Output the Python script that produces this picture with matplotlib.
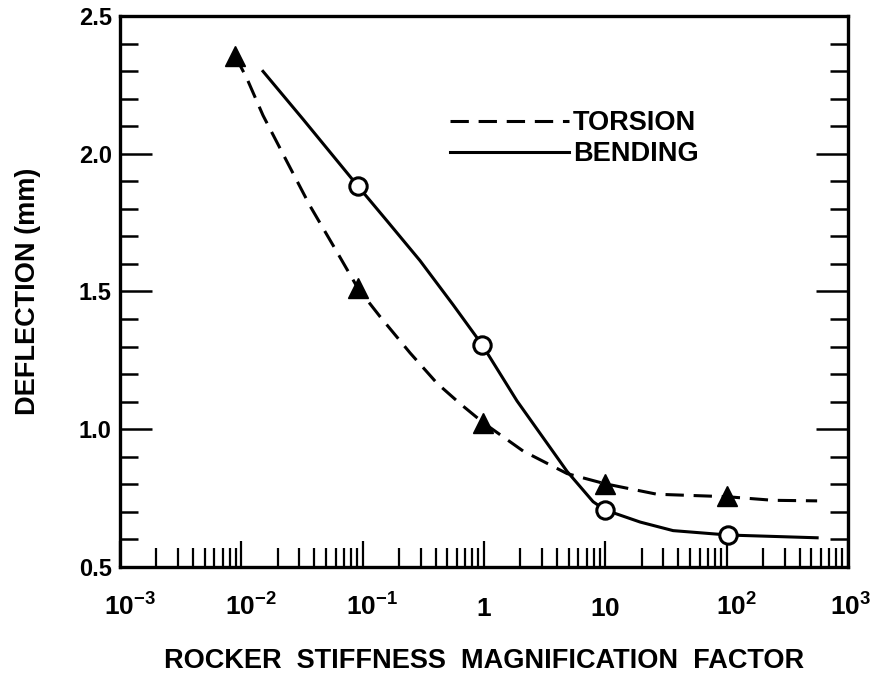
import matplotlib
matplotlib.use("Agg")
import matplotlib.pyplot as plt
from matplotlib.ticker import FixedLocator, NullFormatter
from matplotlib.transforms import ScaledTranslation

# ---- data ----
torsion_pts_x = [0.0089, 0.092, 0.98, 9.96, 101]
torsion_pts_y = [2.355, 1.511, 1.024, 0.802, 0.759]
bending_pts_x = [0.092, 0.964, 9.96, 103]
bending_pts_y = [1.882, 1.307, 0.707, 0.616]

torsion_curve_x = [0.0089, 0.0111, 0.0151, 0.0238, 0.0368, 0.0615, 0.0916, 0.139,
                   0.246, 0.410, 0.635, 0.984, 2.10, 4.84, 9.96, 26.7, 101, 242, 557]
torsion_curve_y = [2.355, 2.274, 2.139, 1.971, 1.811, 1.643, 1.511, 1.409,
                   1.277, 1.167, 1.093, 1.024, 0.921, 0.839, 0.802, 0.764, 0.755, 0.742, 0.740]
bending_curve_x = [0.0151, 0.0323, 0.0916, 0.159, 0.297, 0.556, 0.964, 1.87,
                   4.84, 7.93, 9.96, 19.4, 36.2, 103, 557]
bending_curve_y = [2.299, 2.125, 1.882, 1.756, 1.612, 1.452, 1.307, 1.103,
                   0.847, 0.737, 0.707, 0.663, 0.632, 0.616, 0.606]

x_major = [1e-3, 1e-2, 1e-1, 1, 10, 1e2, 1e3]
x_labels = [r"$10^{-3}$", r"$10^{-2}$", r"$10^{-1}$", "$1$", "$10$", r"$10^{2}$", r"$10^{3}$"]
y_major = [0.5, 1.0, 1.5, 2.0, 2.5]
y_labels = ["0.5", "1.0", "1.5", "2.0", "2.5"]

FONT = "Liberation Sans"
plt.rcParams["font.family"] = [FONT, "DejaVu Sans"]
plt.rcParams["font.weight"] = "bold"
plt.rcParams["axes.labelweight"] = "bold"
plt.rcParams["mathtext.fontset"] = "custom"
plt.rcParams["mathtext.rm"] = FONT + ":bold"
plt.rcParams["mathtext.it"] = FONT + ":bold"
plt.rcParams["mathtext.bf"] = FONT + ":bold"
plt.rcParams["mathtext.default"] = "rm"

fig = plt.figure(figsize=(8.77, 6.80), dpi=100)
ax = fig.add_axes([0.1368, 0.1662, 0.8301, 0.8103])

LW = 2.2
dash = (6.0, 3.2)
ax.plot(torsion_curve_x, torsion_curve_y, color="black", lw=LW, dashes=dash,
        dash_capstyle="butt", dash_joinstyle="round", label="TORSION", zorder=2)
ax.plot(bending_curve_x, bending_curve_y, color="black", lw=LW,
        solid_joinstyle="round", label="BENDING", zorder=2)
ax.plot(torsion_pts_x, torsion_pts_y, linestyle="none", marker="^", ms=14,
        mfc="black", mec="black", zorder=3)
ax.plot(bending_pts_x, bending_pts_y, linestyle="none", marker="o", ms=12.5,
        mfc="white", mec="black", mew=2.2, zorder=3)

ax.set_xscale("log")
ax.set_xlim(1e-3, 1e3)
ax.set_ylim(0.5, 2.5)

ax.xaxis.set_major_locator(FixedLocator(x_major))
ax.set_xticks(x_major)
ax.set_xticklabels(x_labels)
minors = [m * 10.0 ** e for e in range(-3, 3) for m in range(2, 10)]
ax.xaxis.set_minor_locator(FixedLocator(minors))
ax.xaxis.set_minor_formatter(NullFormatter())

ax.set_yticks(y_major)
ax.set_yticklabels(y_labels)
ax.yaxis.set_minor_locator(FixedLocator([0.5 + 0.1 * i for i in range(21)]))

ax.tick_params(axis="x", which="major", direction="in", length=19, width=1.6,
               labelsize=19, pad=35, top=False, bottom=True)
ax.tick_params(axis="x", which="minor", direction="in", length=14, width=1.6,
               top=False, bottom=True)
ax.tick_params(axis="y", which="major", direction="in", length=23, width=1.8,
               labelsize=17, pad=6, left=True, right=True)
ax.tick_params(axis="y", which="minor", direction="in", length=13, width=1.8,
               left=True, right=True)

xlabs = ax.get_xticklabels()
for i, lab in enumerate(xlabs):
    lab.set_verticalalignment("baseline")
    txt = lab.get_text()
    if "^" in txt:
        shift = 2 if i == len(xlabs) - 1 else 7
        lab.set_transform(lab.get_transform() + ScaledTranslation(shift / 72, 0, fig.dpi_scale_trans))

for sp in ax.spines.values():
    sp.set_linewidth(2.4)

ax.set_xlabel("ROCKER  STIFFNESS  MAGNIFICATION  FACTOR", fontsize=19.5, labelpad=20)
ax.set_ylabel("DEFLECTION (mm)", fontsize=19.5, labelpad=27)

leg = ax.legend(loc="upper left", bbox_to_anchor=(450 / 877, 1 - 110 / 680),
                bbox_transform=fig.transFigure, frameon=False, fontsize=19.5,
                handlelength=4.4, handletextpad=0.15, borderpad=0, borderaxespad=0,
                labelspacing=0.2)

fig.savefig("out.png", dpi=100)
